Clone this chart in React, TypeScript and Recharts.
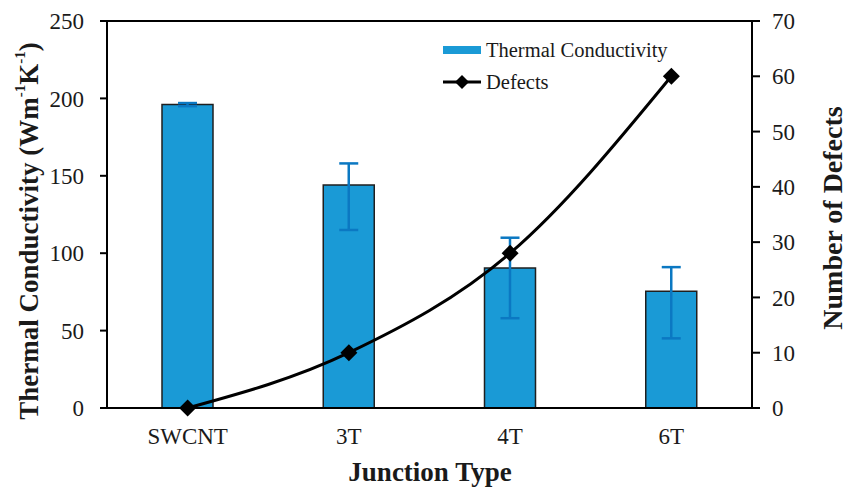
import React from 'react';
import { ComposedChart, Bar, Line, XAxis, YAxis, ErrorBar, ReferenceLine, Legend } from 'recharts';

const categories = ['SWCNT', '3T', '4T', '6T'];
const conductivity = [196, 144, 90.5, 75.5];
const conductivityErr: [number, number][] = [[1, 1], [29, 14], [32.5, 19.5], [30.5, 15.5]];
const defects = [0, 10, 28, 60];
const leftTicks = [0, 50, 100, 150, 200, 250];
const rightTicks = [0, 10, 20, 30, 40, 50, 60, 70];

const data = categories.map((c, i) => ({
  name: c,
  tc: conductivity[i],
  err: conductivityErr[i],
  defects: defects[i],
}));

const FONT = '"Liberation Serif", "Times New Roman", serif';
const BAR_FILL = '#1a9ad6';
const ERR_COLOR = '#0b78c2';
const TEXT = '#1a1a1a';

const Diamond = (props: any) => {
  const { cx, cy } = props;
  if (cx == null || cy == null) return null;
  const r = 8.5;
  return <polygon points={`${cx},${cy - r} ${cx + r},${cy} ${cx},${cy + r} ${cx - r},${cy}`} fill="#000" />;
};

const LeftTitle = () => (
  <text x={29} y={231} transform="rotate(-90 29 231)" textAnchor="middle" dominantBaseline="central"
    fontFamily={FONT} fontWeight="bold" fontSize={27} fill={TEXT}>
    Thermal Conductivity (Wm<tspan fontSize={15} dy={-9}>-1</tspan><tspan dy={9}>K</tspan><tspan fontSize={15} dy={-9}>-1</tspan><tspan dy={9}>)</tspan>
  </text>
);

const RightTitle = () => (
  <text x={832} y={218} transform="rotate(-90 832 218)" textAnchor="middle" dominantBaseline="central"
    fontFamily={FONT} fontWeight="bold" fontSize={28} fill={TEXT}>
    Number of Defects
  </text>
);

const BottomTitle = () => (
  <text x={430} y={481} textAnchor="middle" fontFamily={FONT} fontWeight="bold" fontSize={27} fill={TEXT}>
    Junction Type
  </text>
);

const LegendContent = () => (
  <div style={{ fontFamily: FONT, fontSize: 20.5, color: TEXT, lineHeight: '32px' }}>
    <div style={{ display: 'flex', alignItems: 'center', height: 32 }}>
      <svg width={46} height={32}><rect x={3} y={12} width={38} height={8} fill={BAR_FILL} /></svg>
      <span>Thermal Conductivity</span>
    </div>
    <div style={{ display: 'flex', alignItems: 'center', height: 32 }}>
      <svg width={46} height={32}>
        <line x1={3} y1={16} x2={41} y2={16} stroke="#000" strokeWidth={3} />
        <polygon points="22,9 29,16 22,23 15,16" fill="#000" />
      </svg>
      <span>Defects</span>
    </div>
  </div>
);

export default function App() {
  return (
    <div style={{ position: 'fixed', left: 0, top: 0, background: '#fff' }}>
      <ComposedChart width={846} height={492} data={data} margin={{ top: 21, right: 0, bottom: 0, left: 0 }}>
        <XAxis dataKey="name" height={84} axisLine={{ stroke: '#000', strokeWidth: 2 }} tickLine={false}
          tickMargin={14} tick={{ fontFamily: FONT, fontSize: 23, fill: TEXT }} label={<BottomTitle />} />
        <YAxis yAxisId="left" width={107} domain={[0, 250]} ticks={leftTicks} interval={0}
          axisLine={{ stroke: '#000', strokeWidth: 2 }} tickLine={{ stroke: '#000', strokeWidth: 2 }} tickSize={7}
          tickMargin={16} tick={{ fontFamily: FONT, fontSize: 23, fill: TEXT }} label={<LeftTitle />} />
        <YAxis yAxisId="right" orientation="right" width={94} domain={[0, 70]} ticks={rightTicks} interval={0}
          axisLine={{ stroke: '#000', strokeWidth: 2 }} tickLine={{ stroke: '#000', strokeWidth: 2 }} tickSize={8}
          tickMargin={12} tick={{ fontFamily: FONT, fontSize: 23, fill: TEXT }} label={<RightTitle />} />
        <ReferenceLine yAxisId="left" y={250} stroke="#000" strokeWidth={2} />
        <Legend layout="vertical" align="center" verticalAlign="middle" content={<LegendContent />}
          wrapperStyle={{ left: 440, top: 34, width: 'auto', height: 'auto' }} />
        <Bar yAxisId="left" dataKey="tc" name="Thermal Conductivity" fill={BAR_FILL} stroke="#1f1f1f" strokeWidth={1.5}
          barSize={51} isAnimationActive={false}>
          <ErrorBar dataKey="err" direction="y" width={9.5} stroke={ERR_COLOR} strokeWidth={2.5} />
        </Bar>
        <Line yAxisId="right" dataKey="defects" name="Defects" type="monotone" stroke="#000" strokeWidth={3}
          dot={<Diamond />} activeDot={false} isAnimationActive={false} />
      </ComposedChart>
    </div>
  );
}
